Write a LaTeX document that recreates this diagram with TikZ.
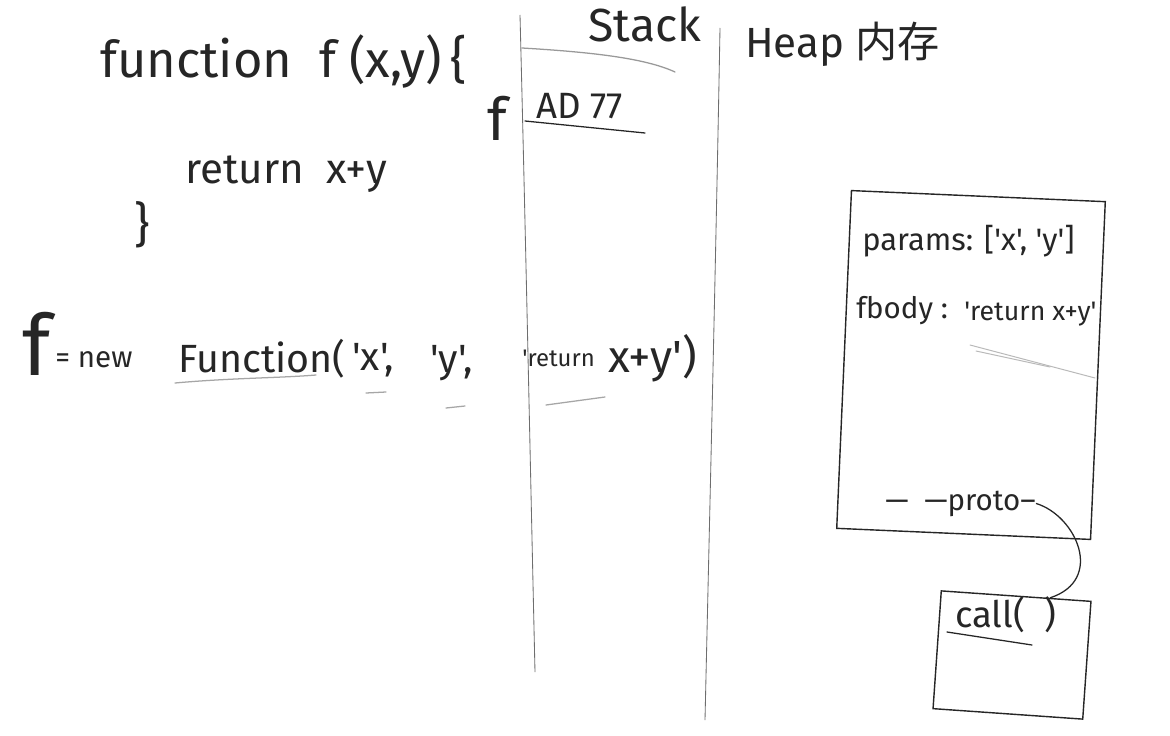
\documentclass[tikz,border=0pt]{standalone}
\usepackage{fontspec}
\newfontfamily\handfont{Fira Sans}
\newfontfamily\cjk{Noto Sans CJK SC}
\usetikzlibrary{calc}
\usetikzlibrary{positioning}
\definecolor{ink}{RGB}{38,38,38}
\definecolor{pencil}{RGB}{110,110,110}

\begin{document}
\begin{tikzpicture}[
  x=0.025cm, y=-0.025cm,
  hand/.style={font=\handfont\fontsize{28}{32}\selectfont, text=ink,
               inner sep=0pt},
  handbig/.style={hand, font=\handfont\fontsize{44}{48}\selectfont},
  handmid/.style={hand, font=\handfont\fontsize{21}{25}\selectfont},
  handsmall/.style={hand, font=\handfont\fontsize{17}{20}\selectfont},
  box/.style={draw=ink, line width=1pt, inner sep=0pt},
  wall/.style={draw=pencil, line width=0.6pt},
  uline/.style={draw=ink, line width=0.9pt, line cap=round},
  faint/.style={draw=gray!55, line width=0.7pt, line cap=round},
  link/.style={draw=ink, line width=0.9pt}
]
\useasboundingbox[fill=white] (0,0) rectangle (1170,736);

%% ---------- left: function declaration ----------
\node[hand, font=\handfont\fontsize{36}{40}\selectfont, anchor=base west]
  (fdecl) at (100,78) {function\ \ f (x,y)\,\{};
\node[hand, font=\handfont\fontsize{30}{34}\selectfont, anchor=base west]
  (fret) at (185,183) {return\ \ x+y};
\node[hand, font=\handfont\fontsize{34}{38}\selectfont] (fend) at (142,225) {\}};

%% ---------- left: new Function(...) ----------
\node[handbig, font=\handfont\fontsize{60}{64}\selectfont, anchor=base west]
  (fvar) at (22,375) {f};
\node[handmid, anchor=base west] (fnew) at (55,367) {= new};
\node[hand, anchor=base west] (fname) at (178,372) {Function(};
\node[hand, anchor=base west] (argx) at (352,370) {'x',};
\node[hand, anchor=base west] (argy) at (430,372) {'y',};
\node[handsmall, anchor=base west] (argbody) at (522,366) {'return};
\node[hand, font=\handfont\fontsize{32}{36}\selectfont, anchor=base west]
  (argend) at (608,372) {x+y')};

\draw[uline, draw=gray!70] (175,383) .. controls (230,378) and (280,378) .. (316,375);
\draw[uline, draw=gray!70] (366,393) -- (386,392);
\draw[uline, draw=gray!70] (446,408) -- (465,406);
\draw[uline, draw=gray!70] (546,405) -- (605,397);

%% ---------- middle: stack ----------
\draw[wall] (520,15) .. controls (526,250) and (531,500) .. (535,672);
\draw[wall] (720,28) .. controls (716,250) and (710,500) .. (705,720);
\node[hand, font=\handfont\fontsize{33}{37}\selectfont, anchor=base]
  (stackttl) at (645,42) {Stack};
\draw[uline, draw=gray!80] (522,48) .. controls (590,52) and (645,58) .. (675,72);
\node[hand, font=\handfont\fontsize{42}{46}\selectfont] (fref) at (497,118) {f};
\node[hand, font=\handfont\fontsize{26}{30}\selectfont, anchor=base west]
  (addr) at (536,118) {AD 77};
\draw[uline] (525,121) -- (645,133);

%% ---------- right: heap ----------
\node[hand, anchor=base west, font=\handfont\fontsize{30}{34}\selectfont]
  (heapttl) at (745,58) {Heap {\cjk 内存}};

\node[box, rotate=-2.5, minimum width=6.35cm, minimum height=8.45cm]
  (fobj) at (971,365) {};
\node[handmid, font=\handfont\fontsize{22}{26}\selectfont, anchor=base west]
  (params) at (862,250) {params: ['x', 'y']};
\node[handmid, anchor=base west] (fbody) at (856,318) {fbody :};
\node[handmid, font=\handfont\fontsize{19}{23}\selectfont, anchor=base west]
  (fval) at (964,320) {'return x+y'};
\draw[faint] (970,345) -- (1095,378);
\draw[faint] (976,351) -- (1050,367);
\node[handmid, anchor=base west] (proto) at (885,510) {— \ —proto–};

\node[box, rotate=-4, minimum width=3.75cm, minimum height=2.95cm]
  (callbox) at (1012,655) {};
\node[hand, font=\handfont\fontsize{26}{30}\selectfont, anchor=base west]
  (callfn) at (955,627) {call( \ )};
\draw[uline] (947,632) -- (1032,645);

%% ---------- link ----------
\coordinate (callin) at ($(callbox.north)!0.45!(callbox.north east)$);
\draw[link] (proto.east) .. controls +(40,12) and +(55,-18) .. (callin);
\end{tikzpicture}
\end{document}
